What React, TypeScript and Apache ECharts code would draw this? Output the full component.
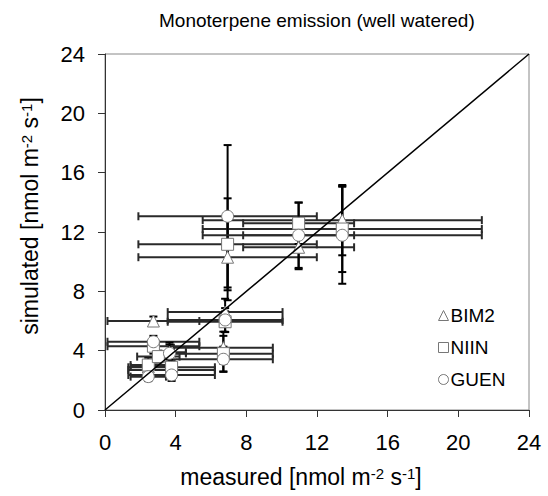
import React, { useEffect, useRef } from 'react';
import * as echarts from 'echarts';

const titleText = 'Monoterpene emission (well watered)';
const seriesNames = ['BIM2', 'NIIN', 'GUEN'];
const seriesSymbols = ['triangle', 'rect', 'circle'];
const axisMin = 0;
const axisMax = 24;
const axisStep = 4;
const identityLine = [[0, 0], [24, 24]];

// BIM2 (triangles)
const bim2Measured = [6.94, 10.96, 13.43, 2.74, 6.8, 6.7, 2.45, 3.77, 3.65];
const bim2MeasuredErr = [5.05, 3.14, 7.9, 2.6, 3.25, 2.8, 1.0, 2.45, 0.93];
const bim2Simulated = [10.3, 10.97, 12.8, 6.0, 6.6, 4.2, 2.9, 2.7, 3.9];
const bim2SimulatedErr = [2.9, 1.48, 2.37, 0.3, 0.9, 1.08, 0.4, 0.4, 0.5];

// NIIN (squares)
const niinMeasured = [6.94, 10.96, 13.43, 2.74, 6.8, 6.7, 2.45, 3.77, 3.02];
const niinMeasuredErr = [5.05, 3.14, 7.9, 2.6, 3.25, 2.8, 1.0, 2.45, 1.2];
const niinSimulated = [11.17, 12.59, 12.2, 4.3, 5.95, 3.8, 3.03, 2.88, 3.6];
const niinSimulatedErr = [3.1, 1.4, 2.9, 0.5, 0.7, 1.2, 0.5, 0.5, 0.4];

// GUEN (circles)
const guenMeasured = [6.94, 10.96, 13.43, 2.74, 6.8, 6.7, 2.45, 3.77, 3.65];
const guenMeasuredErr = [5.05, 3.14, 7.9, 2.6, 3.25, 2.8, 1.0, 2.45, 0.93];
const guenSimulated = [13.06, 11.78, 11.78, 4.6, 6.07, 3.42, 2.25, 2.36, 3.82];
const guenSimulatedErr = [4.8, 2.2, 3.27, 0.4, 0.8, 0.85, 0.3, 0.4, 0.72];

const FONT = "'Liberation Sans', Arial, sans-serif";

function rows(mx: number[], mxe: number[], sy: number[], sye: number[]) {
  return mx.map((x, i) => [x, sy[i], mxe[i], sye[i]]);
}

const allRows = [
  rows(bim2Measured, bim2MeasuredErr, bim2Simulated, bim2SimulatedErr),
  rows(niinMeasured, niinMeasuredErr, niinSimulated, niinSimulatedErr),
  rows(guenMeasured, guenMeasuredErr, guenSimulated, guenSimulatedErr),
];

const renderErr = (params: any, api: any) => {
  const x = api.value(0);
  const y = api.value(1);
  const xe = api.value(2);
  const ye = api.value(3);
  const l = api.coord([x - xe, y]);
  const r = api.coord([x + xe, y]);
  const t = api.coord([x, y + ye]);
  const b = api.coord([x, y - ye]);
  const cap = 4;
  const hs = { stroke: '#2a2a2a', lineWidth: 2 };
  const vs = { stroke: '#000', lineWidth: 2 };
  return {
    type: 'group',
    children: [
      { type: 'line', shape: { x1: l[0], y1: l[1], x2: r[0], y2: r[1] }, style: hs },
      { type: 'line', shape: { x1: l[0], y1: l[1] - cap, x2: l[0], y2: l[1] + cap }, style: hs },
      { type: 'line', shape: { x1: r[0], y1: r[1] - cap, x2: r[0], y2: r[1] + cap }, style: hs },
      { type: 'line', shape: { x1: t[0], y1: t[1], x2: b[0], y2: b[1] }, style: vs },
      { type: 'line', shape: { x1: t[0] - cap, y1: t[1], x2: t[0] + cap, y2: t[1] }, style: vs },
      { type: 'line', shape: { x1: b[0] - cap, y1: b[1], x2: b[0] + cap, y2: b[1] }, style: vs },
    ],
  };
};

export default function App() {
  const ref = useRef<HTMLDivElement>(null);
  useEffect(() => {
    const chart = echarts.init(ref.current!, null, { renderer: 'svg' });
    const axisCommon = {
      type: 'value',
      min: axisMin,
      max: axisMax,
      interval: axisStep,
      splitLine: { show: false },
      axisLine: { show: true, onZero: false, lineStyle: { color: '#333', width: 1 } },
      axisTick: { show: true, inside: false, length: 7, lineStyle: { color: '#333', width: 1 } },
      axisLabel: { fontSize: 22, color: '#000', fontFamily: FONT, margin: 14 },
    };
    const series: any[] = [];
    allRows.forEach((data, i) => {
      series.push({
        type: 'custom',
        name: seriesNames[i] + ' error',
        renderItem: renderErr,
        dimensions: ['x', 'y', 'xe', 'ye'],
        encode: { x: 0, y: 1 },
        data,
        z: 2,
        silent: true,
      });
    });
    allRows.forEach((data, i) => {
      series.push({
        type: 'scatter',
        name: seriesNames[i],
        symbol: seriesSymbols[i],
        symbolSize: 12,
        data: data.map((d) => [d[0], d[1]]),
        itemStyle: { color: '#fff', borderColor: '#777', borderWidth: 1, opacity: 1 },
        z: 3,
      });
    });
    series.push({
      type: 'line',
      name: '1:1',
      data: identityLine,
      showSymbol: false,
      symbol: 'none',
      lineStyle: { color: '#000', width: 1.5 },
      z: 4,
      silent: true,
    });
    const option: any = {
      animation: false,
      backgroundColor: '#fff',
      title: {
        text: titleText,
        left: 154,
        top: 6,
        textStyle: { fontSize: 19, fontWeight: 'normal', color: '#000', fontFamily: FONT },
      },
      grid: {
        left: 105,
        top: 54,
        right: 19,
        bottom: 86,
        show: true,
        borderColor: '#888',
        borderWidth: 1,
        backgroundColor: 'transparent',
      },
      xAxis: { ...axisCommon, axisLabel: { ...axisCommon.axisLabel, margin: 21 } },
      yAxis: { ...axisCommon, axisLabel: { ...axisCommon.axisLabel, margin: 20 } },
      legend: {
        data: seriesNames.map((n, i) => ({ name: n, icon: seriesSymbols[i] })),
        orient: 'vertical',
        left: 433,
        top: 301,
        itemWidth: 10,
        itemHeight: 10,
        itemGap: 13,
        itemStyle: { color: '#fff', borderColor: '#777', borderWidth: 1 },
        textStyle: { fontSize: 19, color: '#000', fontFamily: FONT, padding: [0, 0, 0, -3] },
        selectedMode: false,
      },
      graphic: [
        {
          type: 'text',
          x: 301,
          y: 477,
          style: {
            text: '{a|measured [nmol m}{b|-2}{a| s}{b|-1}{a|]}',
            align: 'center',
            verticalAlign: 'middle',
            rich: {
              a: { fontSize: 23, fontFamily: FONT, fill: '#000' },
              b: { fontSize: 15, fontFamily: FONT, fill: '#000', verticalAlign: 'top' },
            },
          },
        },
        {
          type: 'text',
          x: 30,
          y: 216,
          rotation: Math.PI / 2,
          style: {
            text: '{a|simulated [nmol m}{b|-2}{a| s}{b|-1}{a|]}',
            align: 'center',
            verticalAlign: 'middle',
            rich: {
              a: { fontSize: 23, fontFamily: FONT, fill: '#000' },
              b: { fontSize: 15, fontFamily: FONT, fill: '#000', verticalAlign: 'top' },
            },
          },
        },
      ],
      series,
    };
    chart.setOption(option);
    return () => chart.dispose();
  }, []);
  return (
    <div
      ref={ref}
      style={{ position: 'fixed', left: 0, top: 0, width: 548, height: 496, background: '#fff' }}
    />
  );
}
